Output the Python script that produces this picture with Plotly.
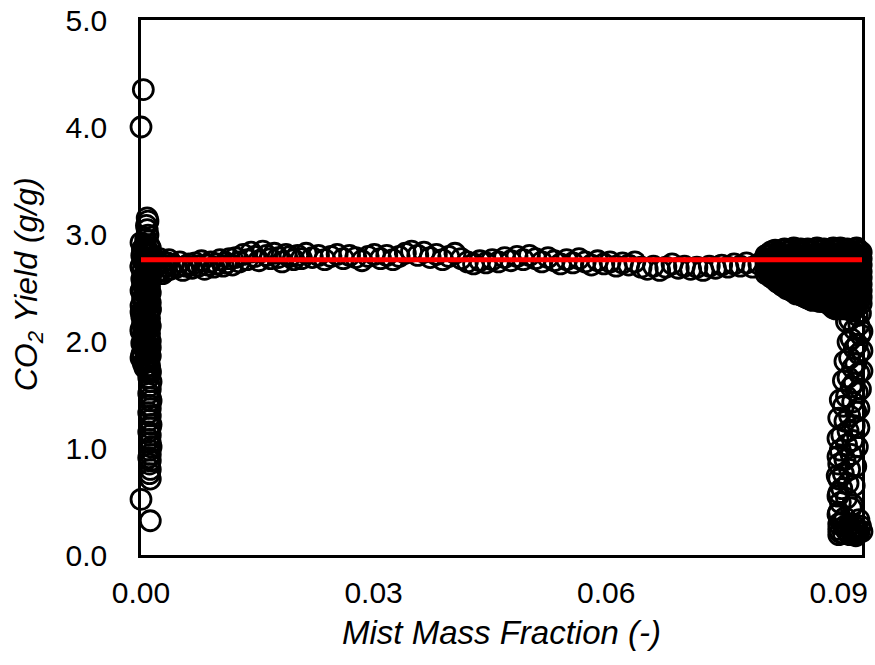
import plotly.graph_objects as go

# ---- data ----
# start-up: outliers and upper stack near x = 0
start_x = [0.0003, 0.0000, 0.0008, 0.0009, 0.0007, 0.0008, 0.0009, 0.0006]
start_y = [4.35, 4.00, 3.15, 3.12, 3.08, 3.04, 2.99, 2.95]

# dense start-up column (two interleaved readings)
col_x = [0.0000, 0.0010, 0.0004, 0.0012, 0.0002, 0.0007, 0.0011, 0.0001, 0.0005, 0.0009,
         0.0003, 0.0012, 0.0006, 0.0000, 0.0008, 0.0011, 0.0002, 0.0010, 0.0004, 0.0012,
         0.0001, 0.0007, 0.0009, 0.0003, 0.0011, 0.0005, 0.0000, 0.0012, 0.0006, 0.0008,
         0.0002, 0.0010, 0.0004, 0.0011, 0.0000, 0.0007, 0.0012, 0.0003, 0.0009, 0.0005,
         0.0001, 0.0011, 0.0006, 0.0010, 0.0002, 0.0012, 0.0004, 0.0008, 0.0000, 0.0011,
         0.0005, 0.0009, 0.0003, 0.0012, 0.0001, 0.0007, 0.0010, 0.0004, 0.0011, 0.0002,
         0.0008, 0.0012, 0.0000, 0.0006, 0.0010, 0.0003, 0.0011, 0.0005, 0.0009, 0.0012]
col_y = [2.92, 2.90, 2.88, 2.87, 2.85, 2.83, 2.82, 2.80, 2.78, 2.77,
         2.75, 2.73, 2.71, 2.70, 2.68, 2.66, 2.65, 2.63, 2.61, 2.59,
         2.58, 2.56, 2.54, 2.52, 2.51, 2.49, 2.47, 2.45, 2.44, 2.42,
         2.40, 2.38, 2.37, 2.35, 2.33, 2.31, 2.30, 2.28, 2.26, 2.24,
         2.23, 2.21, 2.19, 2.17, 2.16, 2.14, 2.12, 2.10, 2.09, 2.07,
         2.05, 2.03, 2.02, 2.00, 1.98, 1.96, 1.95, 1.93, 1.91, 1.89,
         1.88, 1.86, 1.84, 1.82, 1.81, 1.79, 1.77, 1.75, 1.73, 1.72]
col2_x = [0.0006, 0.0002, 0.0011, 0.0005, 0.0009, 0.0000, 0.0008, 0.0003, 0.0012, 0.0006,
          0.0001, 0.0010, 0.0004, 0.0008, 0.0012, 0.0002, 0.0007, 0.0011, 0.0000, 0.0005,
          0.0009, 0.0003, 0.0012, 0.0007, 0.0001, 0.0010, 0.0004, 0.0008, 0.0011, 0.0002,
          0.0006, 0.0012, 0.0000, 0.0009, 0.0004]
col2_y = [2.89, 2.86, 2.81, 2.76, 2.72, 2.69, 2.64, 2.60, 2.57, 2.53,
          2.48, 2.43, 2.39, 2.34, 2.29, 2.25, 2.20, 2.15, 2.11, 2.06,
          2.01, 1.97, 1.94, 1.90, 1.87, 1.83, 1.80, 1.76, 1.74, 2.55,
          2.46, 2.36, 2.27, 2.18, 2.08]

# lower start-up stack
low_x = [0.0012, 0.0010, 0.0013, 0.0011, 0.0012, 0.0010, 0.0012, 0.0013, 0.0011, 0.0012,
         0.0010, 0.0012, 0.0011, 0.0013, 0.0012, 0.0010, 0.0012, 0.0011, 0.0012, 0.0013,
         0.0011, 0.0012, 0.0010, 0.0012, 0.0011, 0.0012, 0.0011, 0.0012, 0.0000, 0.0012]
low_y = [1.70, 1.66, 1.62, 1.58, 1.55, 1.51, 1.47, 1.44, 1.40, 1.37,
         1.33, 1.30, 1.26, 1.22, 1.19, 1.15, 1.12, 1.08, 1.05, 1.01,
         0.98, 0.94, 0.91, 0.88, 0.85, 0.80, 0.76, 0.71, 0.52, 0.32]

# junction between start-up column and trail
junc_x = [0.0016, 0.0020, 0.0024, 0.0028, 0.0019, 0.0025, 0.0031, 0.0036]
junc_y = [2.78, 2.64, 2.77, 2.63, 2.70, 2.72, 2.65, 2.76]

# steady trail
trail_x = [0.0014, 0.0018, 0.0022, 0.0026, 0.0030, 0.0034, 0.0038, 0.0042, 0.0046, 0.0050,
           0.0054, 0.0058, 0.0062, 0.0066, 0.0070, 0.0074, 0.0078, 0.0082, 0.0086, 0.0090,
           0.0094, 0.0098, 0.0102, 0.0106, 0.0110, 0.0114, 0.0118,
           0.0122, 0.0127, 0.0132, 0.0137, 0.0142, 0.0147, 0.0152, 0.0157, 0.0162, 0.0167,
           0.0172, 0.0177, 0.0182, 0.0187, 0.0192, 0.0197, 0.0202, 0.0207,
           0.0213, 0.0221, 0.0229, 0.0237, 0.0245, 0.0253, 0.0261, 0.0269, 0.0277, 0.0285,
           0.0293, 0.0301, 0.0309, 0.0317, 0.0325, 0.0333, 0.0341, 0.0349, 0.0357, 0.0365,
           0.0373, 0.0381, 0.0389, 0.0397, 0.0405, 0.0413, 0.0421, 0.0429, 0.0437, 0.0445,
           0.0453, 0.0461, 0.0469, 0.0477, 0.0485, 0.0493, 0.0501, 0.0509, 0.0517, 0.0525,
           0.0533, 0.0541, 0.0549, 0.0557, 0.0565, 0.0573, 0.0581, 0.0589, 0.0597, 0.0605,
           0.0613, 0.0621, 0.0629, 0.0637, 0.0645, 0.0653, 0.0661, 0.0669, 0.0677, 0.0685,
           0.0693, 0.0701, 0.0709, 0.0717, 0.0725, 0.0733, 0.0741, 0.0749, 0.0757, 0.0765,
           0.0773, 0.0781, 0.0789, 0.0797]
trail_y = [2.72, 2.68, 2.74, 2.66, 2.70, 2.73, 2.67, 2.71, 2.69, 2.74,
           2.66, 2.70, 2.72, 2.68, 2.73, 2.70, 2.75, 2.67, 2.71, 2.74,
           2.69, 2.72, 2.76, 2.70, 2.73, 2.77, 2.71,
           2.78, 2.74, 2.81, 2.76, 2.83, 2.79, 2.75, 2.84, 2.80, 2.77,
           2.82, 2.78, 2.74, 2.81, 2.79, 2.76, 2.80, 2.77,
           2.82, 2.78, 2.80, 2.76, 2.79, 2.81, 2.77, 2.80, 2.78, 2.75,
           2.79, 2.81, 2.77, 2.80, 2.76, 2.79, 2.82, 2.84, 2.80, 2.83,
           2.78, 2.81, 2.76, 2.79, 2.82, 2.77, 2.74, 2.72, 2.75, 2.73,
           2.76, 2.74, 2.78, 2.75, 2.79, 2.76, 2.80, 2.77, 2.74, 2.78,
           2.75, 2.72, 2.76, 2.73, 2.77, 2.74, 2.71, 2.75, 2.72, 2.74,
           2.70, 2.73, 2.71, 2.74, 2.69, 2.67, 2.70, 2.66, 2.69, 2.72,
           2.68, 2.70, 2.67, 2.69, 2.66, 2.70, 2.68, 2.71, 2.69, 2.72,
           2.70, 2.73, 2.69, 2.72]

# dense end cluster: column positions and the yields read in each column
end_cols = [0.0806, 0.0812, 0.0818, 0.0824, 0.0830, 0.0836, 0.0842, 0.0848, 0.0854, 0.0860, 0.0866,
            0.0872, 0.0878, 0.0884, 0.0890, 0.0896, 0.0902, 0.0908, 0.0914, 0.0920, 0.0926, 0.0932]
end_col_yields = [
    [2.80, 2.74, 2.68, 2.63],
    [2.83, 2.77, 2.71, 2.65, 2.60],
    [2.85, 2.79, 2.73, 2.67, 2.61, 2.57],
    [2.82, 2.76, 2.70, 2.64, 2.58, 2.54],
    [2.86, 2.80, 2.74, 2.68, 2.62, 2.56, 2.51],
    [2.84, 2.78, 2.72, 2.66, 2.60, 2.54, 2.49],
    [2.87, 2.81, 2.75, 2.69, 2.63, 2.57, 2.51, 2.46],
    [2.85, 2.79, 2.73, 2.67, 2.61, 2.55, 2.49, 2.44],
    [2.83, 2.77, 2.71, 2.65, 2.59, 2.53, 2.47, 2.42],
    [2.86, 2.80, 2.74, 2.68, 2.62, 2.56, 2.50, 2.44, 2.40],
    [2.84, 2.78, 2.72, 2.66, 2.60, 2.54, 2.48, 2.42, 2.38],
    [2.87, 2.81, 2.75, 2.69, 2.63, 2.57, 2.51, 2.45, 2.39],
    [2.85, 2.79, 2.73, 2.67, 2.61, 2.55, 2.49, 2.43, 2.37],
    [2.83, 2.77, 2.71, 2.65, 2.59, 2.53, 2.47, 2.41, 2.36],
    [2.86, 2.80, 2.74, 2.68, 2.62, 2.56, 2.50, 2.44, 2.38, 2.33],
    [2.84, 2.78, 2.72, 2.66, 2.60, 2.54, 2.48, 2.42, 2.36, 2.30],
    [2.87, 2.81, 2.75, 2.69, 2.63, 2.57, 2.51, 2.45, 2.39, 2.32],
    [2.85, 2.79, 2.73, 2.67, 2.61, 2.55, 2.49, 2.43, 2.37, 2.31],
    [2.83, 2.77, 2.71, 2.65, 2.59, 2.53, 2.47, 2.41, 2.35, 2.29],
    [2.86, 2.80, 2.74, 2.68, 2.62, 2.56, 2.50, 2.44, 2.38, 2.32],
    [2.84, 2.78, 2.72, 2.66, 2.60, 2.54, 2.48, 2.42, 2.36],
    [2.82, 2.76, 2.70, 2.64, 2.58, 2.52, 2.46, 2.40],
]
end_cols_b = [0.0809, 0.0815, 0.0821, 0.0827, 0.0833, 0.0839, 0.0845, 0.0851, 0.0857, 0.0863, 0.0869,
              0.0875, 0.0881, 0.0887, 0.0893, 0.0899, 0.0905, 0.0911, 0.0917, 0.0923, 0.0929]
end_col_yields_b = [
    [2.81, 2.75, 2.69, 2.64],
    [2.84, 2.78, 2.72, 2.66, 2.59],
    [2.83, 2.77, 2.71, 2.65, 2.59, 2.55],
    [2.85, 2.79, 2.73, 2.67, 2.61, 2.55, 2.52],
    [2.83, 2.77, 2.71, 2.65, 2.59, 2.53, 2.49],
    [2.85, 2.79, 2.73, 2.67, 2.61, 2.55, 2.49, 2.47],
    [2.84, 2.78, 2.72, 2.66, 2.60, 2.54, 2.48, 2.44],
    [2.86, 2.80, 2.74, 2.68, 2.62, 2.56, 2.50, 2.43],
    [2.85, 2.79, 2.73, 2.67, 2.61, 2.55, 2.49, 2.43, 2.41],
    [2.83, 2.77, 2.71, 2.65, 2.59, 2.53, 2.47, 2.41, 2.39],
    [2.86, 2.80, 2.74, 2.68, 2.62, 2.56, 2.50, 2.44, 2.39],
    [2.84, 2.78, 2.72, 2.66, 2.60, 2.54, 2.48, 2.42, 2.37],
    [2.86, 2.80, 2.74, 2.68, 2.62, 2.56, 2.50, 2.44, 2.38],
    [2.84, 2.78, 2.72, 2.66, 2.60, 2.54, 2.48, 2.42, 2.35],
    [2.87, 2.81, 2.75, 2.69, 2.63, 2.57, 2.51, 2.45, 2.39, 2.31],
    [2.85, 2.79, 2.73, 2.67, 2.61, 2.55, 2.49, 2.43, 2.37, 2.31],
    [2.83, 2.77, 2.71, 2.65, 2.59, 2.53, 2.47, 2.41, 2.35, 2.30],
    [2.86, 2.80, 2.74, 2.68, 2.62, 2.56, 2.50, 2.44, 2.38, 2.32],
    [2.84, 2.78, 2.72, 2.66, 2.60, 2.54, 2.48, 2.42, 2.36, 2.30],
    [2.87, 2.81, 2.75, 2.69, 2.63, 2.57, 2.51, 2.45, 2.39, 2.33],
    [2.83, 2.77, 2.71, 2.65, 2.59, 2.53, 2.47, 2.41, 2.35],
]

# final drop
drop_x = [0.0918, 0.0924, 0.0914, 0.0926, 0.0920, 0.0928, 0.0916, 0.0924, 0.0920, 0.0926,
          0.0914, 0.0922, 0.0918, 0.0926, 0.0912, 0.0920, 0.0916, 0.0924, 0.0910, 0.0918,
          0.0906, 0.0922, 0.0914, 0.0908, 0.0920, 0.0912, 0.0904, 0.0918, 0.0910, 0.0902,
          0.0916, 0.0908, 0.0900, 0.0914, 0.0906, 0.0900, 0.0912, 0.0904, 0.0900, 0.0910,
          0.0902, 0.0916, 0.0900, 0.0908,
          0.0904, 0.0914, 0.0922, 0.0900, 0.0910, 0.0918, 0.0926, 0.0906, 0.0914, 0.0922,
          0.0902, 0.0912, 0.0920, 0.0908, 0.0916, 0.0924]
drop_y = [2.28, 2.24, 2.20, 2.15, 2.11, 2.06, 2.02, 1.97, 1.93, 1.88,
          1.84, 1.79, 1.75, 1.70, 1.66, 1.61, 1.57, 1.52, 1.48, 1.43,
          1.39, 1.34, 1.30, 1.25, 1.21, 1.16, 1.12, 1.07, 1.03, 0.98,
          0.94, 0.89, 0.85, 0.80, 0.76, 0.71, 0.67, 0.62, 0.58, 0.53,
          0.49, 0.44, 0.40, 0.35,
          0.30, 0.28, 0.26, 0.24, 0.23, 0.22, 0.21, 0.20, 0.19, 0.18,
          0.21, 0.25, 0.20, 0.27, 0.24, 0.23]
drop2_x = [0.0928, 0.0910, 0.0930, 0.0912, 0.0930, 0.0908, 0.0930, 0.0906, 0.0928, 0.0902,
           0.0926, 0.0900, 0.0926, 0.0899, 0.0924, 0.0899, 0.0922, 0.0898, 0.0920, 0.0899,
           0.0918, 0.0899, 0.0926, 0.0900, 0.0928, 0.0930, 0.0900]
drop2_y = [2.26, 2.18, 2.09, 1.99, 1.91, 1.81, 1.72, 1.63, 1.55, 1.45,
           1.37, 1.28, 1.19, 1.09, 1.01, 0.92, 0.83, 0.74, 0.65, 0.55,
           0.47, 0.38, 0.33, 0.29, 0.27, 0.22, 0.19]

mean_x = [0.0, 0.093]
mean_y = [2.76, 2.76]

x_ticks = [0, 0.03, 0.06, 0.09]
x_tick_text = ["0.00", "0.03", "0.06", "0.09"]
y_ticks = [0, 1, 2, 3, 4, 5]
y_tick_text = ["0.0", "1.0", "2.0", "3.0", "4.0", "5.0"]

# ---- assemble ----
end_x, end_y = [], []
for cols, yields in ((end_cols, end_col_yields), (end_cols_b, end_col_yields_b)):
    for cx, ys in zip(cols, yields):
        end_x += [cx] * len(ys)
        end_y += ys

all_x = start_x + col_x + col2_x + low_x + junc_x + trail_x + end_x + drop_x + drop2_x
all_y = start_y + col_y + col2_y + low_y + junc_y + trail_y + end_y + drop_y + drop2_y

FONT = "Arial, Liberation Sans, sans-serif"

fig = go.Figure()
fig.add_trace(go.Scatter(
    x=all_x, y=all_y, mode="markers",
    marker=dict(symbol="circle-open", size=20, color="black",
                line=dict(width=2.8, color="black")),
    cliponaxis=False, showlegend=False, hoverinfo="x+y"))
fig.add_trace(go.Scatter(
    x=mean_x, y=mean_y, mode="lines",
    line=dict(color="#ff0000", width=5),
    cliponaxis=False, showlegend=False))

fig.update_layout(
    width=875, height=665,
    margin=dict(l=141, r=13, t=20, b=110),
    paper_bgcolor="white", plot_bgcolor="white",
    font=dict(family=FONT, size=30, color="black"),
    xaxis=dict(range=[0, 0.093], tickvals=x_ticks, ticktext=x_tick_text,
               tickfont=dict(size=30), automargin=False,
               showgrid=False, zeroline=False, showline=True, mirror=True,
               linecolor="black", linewidth=2.5, ticks="",
               ticklabelstandoff=9),
    yaxis=dict(range=[0, 5], tickvals=y_ticks, ticktext=y_tick_text,
               tickfont=dict(size=30), automargin=False,
               showgrid=False, zeroline=False, showline=True, mirror=True,
               linecolor="black", linewidth=2.5, ticks="",
               ticklabelstandoff=25),
    annotations=[
        dict(text="<i>Mist Mass Fraction (-)</i>", xref="paper", yref="paper",
             x=0.5, y=-0.144, xanchor="center", yanchor="middle",
             showarrow=False, font=dict(size=33)),
        dict(text="<i>CO<sub>2</sub> Yield (g/g)</i>", xref="paper", yref="paper",
             x=-0.156, y=0.505, xanchor="center", yanchor="middle", textangle=-90,
             showarrow=False, font=dict(size=32)),
    ],
)

fig.write_html("out.html")
